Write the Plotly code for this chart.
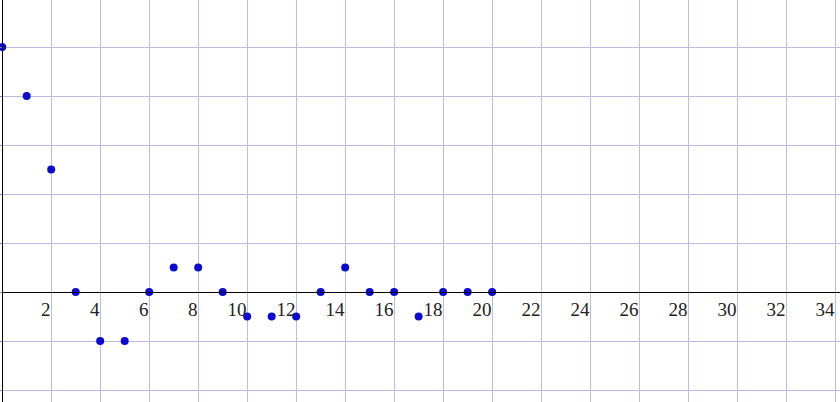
import plotly.graph_objects as go

x_vals = list(range(0, 21))
y_vals = [10, 8, 5, 0, -2, -2, 0, 1, 1, 0, -1, -1, -1, 0, 1, 0, 0, -1, 0, 0, 0]
x_ticks = list(range(2, 35, 2))
x_tick_labels = [str(v) for v in x_ticks]
y_ticks = list(range(-4, 12, 2))

x_range = [-0.09, 34.2]
y_range = [-4.49, 11.92]

grid_color = "#bcbce2"

fig = go.Figure()
fig.add_trace(go.Scatter(
    x=x_vals, y=y_vals, mode="markers",
    marker=dict(color="#0a0ad0", size=8),
    hoverinfo="x+y", showlegend=False,
))

xpos = (0 - y_range[0]) / (y_range[1] - y_range[0])
ypos = (0 - x_range[0]) / (x_range[1] - x_range[0])

fig.update_layout(
    width=840, height=402,
    margin=dict(l=0, r=0, t=0, b=0, autoexpand=False),
    paper_bgcolor="white", plot_bgcolor="white",
    xaxis=dict(
        range=x_range, tickvals=x_ticks, ticktext=x_tick_labels,
        showgrid=True, gridcolor=grid_color, gridwidth=1.3,
        zeroline=False, showline=True, linecolor="black", linewidth=1.3,
        anchor="free", position=xpos, automargin=False,
        ticks="", ticklabelposition="outside left",
        tickfont=dict(family="Liberation Serif, Times New Roman, serif", size=19, color="#222"),
    ),
    yaxis=dict(
        range=y_range, tickvals=y_ticks,
        showgrid=True, gridcolor=grid_color, gridwidth=1.3,
        zeroline=False, showline=True, linecolor="black", linewidth=1.3,
        anchor="free", position=ypos, automargin=False,
        ticks="outside", ticklen=3, tickcolor="#888",
        showticklabels=False,
    ),
)

fig.write_html(
    "out.html",
    config={"displayModeBar": False},
    post_script="document.body.style.margin='0';document.body.style.overflow='hidden';",
)
